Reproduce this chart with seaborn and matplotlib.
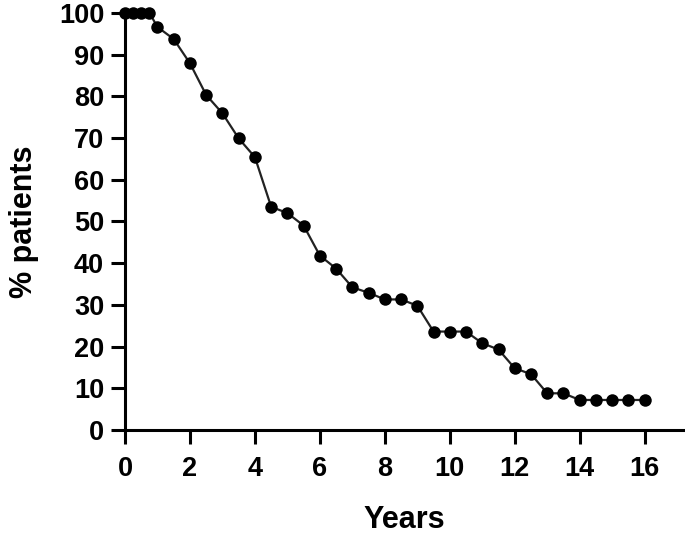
import numpy as np
import pandas as pd
import matplotlib
matplotlib.use("Agg")
import matplotlib.pyplot as plt
import seaborn as sns

# values
years = [0, 0.25, 0.5, 0.75, 1.0, 1.5, 2.0, 2.5, 3.0, 3.5, 4.0, 4.5, 5.0, 5.5,
         6.0, 6.5, 7.0, 7.5, 8.0, 8.5, 9.0, 9.5, 10.0, 10.5, 11.0, 11.5, 12.0,
         12.5, 13.0, 13.5, 14.0, 14.5, 15.0, 15.5, 16.0]
pct_patients = [100, 100, 100, 100, 96.6, 93.7, 87.9, 80.3, 75.9, 69.9, 65.4,
                53.5, 52.0, 49.0, 41.8, 38.7, 34.2, 32.9, 31.3, 31.3, 29.8,
                23.6, 23.6, 23.6, 20.8, 19.3, 14.8, 13.4, 8.8, 8.8, 7.2, 7.2,
                7.2, 7.2, 7.2]
x_ticks = [0, 2, 4, 6, 8, 10, 12, 14, 16]
y_ticks = [0, 10, 20, 30, 40, 50, 60, 70, 80, 90, 100]

df = pd.DataFrame({"Years": years, "pct": pct_patients})

sns.set_theme(style="ticks")
plt.rcParams["font.family"] = ["Liberation Sans", "DejaVu Sans"]
plt.rcParams["font.weight"] = "bold"

fig = plt.figure(figsize=(6.85, 5.39), dpi=100)
ax = fig.add_axes([0.1825, 0.2022, 0.8155, 0.774])

sns.lineplot(data=df, x="Years", y="pct", ax=ax, color="#222222", lw=1.6,
             marker="o", markersize=9, markeredgewidth=0, markerfacecolor="black",
             clip_on=False)

ax.set_xlim(0, 17.2)
ax.set_ylim(0, 100)
ax.set_xticks(x_ticks)
ax.set_yticks(y_ticks)
sns.despine(ax=ax)
for side in ["left", "bottom"]:
    ax.spines[side].set_linewidth(2.2)
    ax.spines[side].set_color("black")
ax.tick_params(axis="both", width=2.2, length=10, color="black",
               labelsize=19.5, labelcolor="black")
ax.tick_params(axis="x", pad=9)
ax.tick_params(axis="y", pad=5)
for lab in ax.get_xticklabels() + ax.get_yticklabels():
    lab.set_fontweight("bold")

ax.set_xlabel("Years", fontsize=22, fontweight="bold", labelpad=16, color="black")
ax.set_ylabel("% patients", fontsize=22, fontweight="bold", labelpad=14, color="black")

fig.savefig("out.png", dpi=100)
